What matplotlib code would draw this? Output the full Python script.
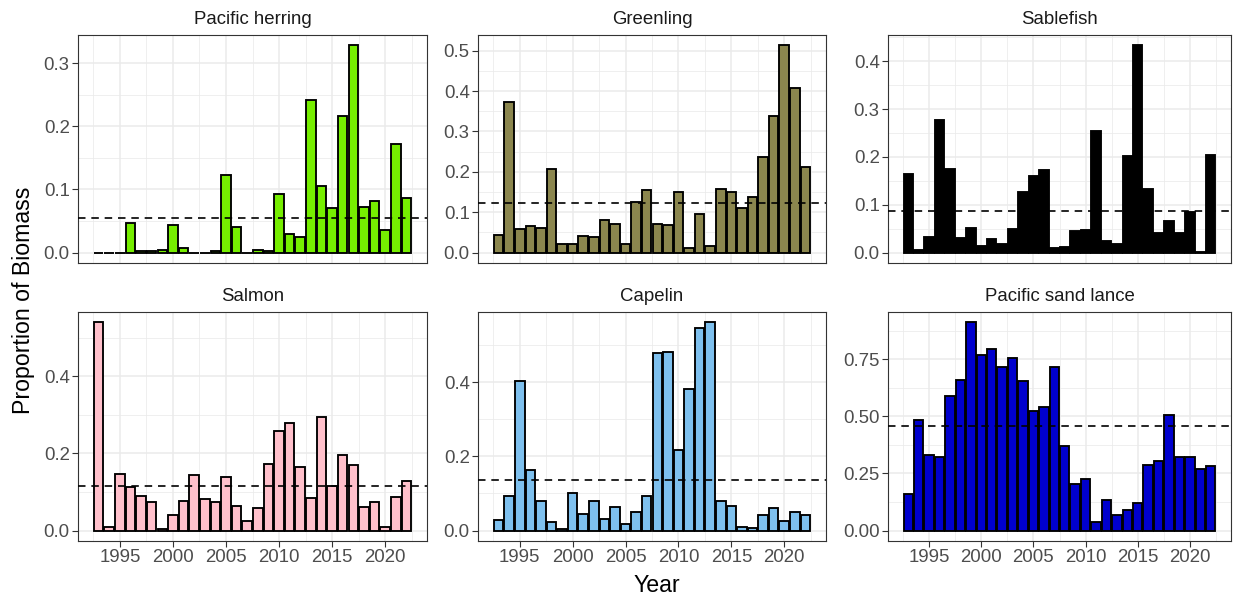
"""Proportion of biomass by year for six prey species (facet grid, ggplot-like)."""

import matplotlib.pyplot as plt
import numpy as np
from matplotlib.ticker import FixedLocator

plt.rcParams["font.family"] = ["Liberation Sans", "DejaVu Sans"]

years = np.arange(1993, 2023)

species = ["Pacific herring", "Greenling", "Sablefish",
           "Salmon", "Capelin", "Pacific sand lance"]

herring = [0.0, 0.0, 0.0, 0.047, 0.002, 0.002, 0.004, 0.044, 0.008, 0.0,
           0.0, 0.002, 0.123, 0.040, 0.0, 0.004, 0.002, 0.093, 0.029, 0.024,
           0.241, 0.105, 0.070, 0.216, 0.328, 0.073, 0.081, 0.036, 0.172, 0.086]
greenling = [0.044, 0.372, 0.059, 0.066, 0.061, 0.207, 0.021, 0.021, 0.040, 0.038,
             0.081, 0.071, 0.022, 0.125, 0.154, 0.070, 0.068, 0.149, 0.012, 0.096,
             0.017, 0.158, 0.151, 0.111, 0.137, 0.237, 0.337, 0.513, 0.408, 0.213]
sablefish = [0.164, 0.006, 0.033, 0.277, 0.174, 0.031, 0.052, 0.014, 0.028, 0.019,
             0.050, 0.127, 0.161, 0.173, 0.009, 0.012, 0.045, 0.047, 0.254, 0.024,
             0.019, 0.201, 0.433, 0.133, 0.042, 0.066, 0.040, 0.084, 0.002, 0.205]
salmon = [0.540, 0.010, 0.148, 0.114, 0.089, 0.073, 0.004, 0.040, 0.077, 0.145,
          0.082, 0.074, 0.138, 0.064, 0.026, 0.058, 0.173, 0.259, 0.280, 0.164,
          0.085, 0.295, 0.116, 0.197, 0.171, 0.061, 0.075, 0.010, 0.086, 0.129]
capelin = [0.029, 0.094, 0.404, 0.162, 0.080, 0.024, 0.004, 0.100, 0.045, 0.079,
           0.030, 0.063, 0.017, 0.049, 0.093, 0.479, 0.480, 0.218, 0.382, 0.547,
           0.561, 0.079, 0.065, 0.010, 0.006, 0.043, 0.062, 0.026, 0.050, 0.042]
sand_lance = [0.161, 0.485, 0.332, 0.322, 0.588, 0.661, 0.911, 0.770, 0.795, 0.718,
              0.754, 0.653, 0.523, 0.542, 0.715, 0.371, 0.205, 0.224, 0.037, 0.135,
              0.070, 0.091, 0.121, 0.289, 0.306, 0.507, 0.320, 0.320, 0.268, 0.281]

# long-term means (dashed reference lines)
means = [0.055, 0.124, 0.088, 0.115, 0.137, 0.458]

colors = ["#76EE00", "#8B864E", "#000000", "#FFC0CB", "#7EC0EE", "#0000CD"]

y_major = [[0, 0.1, 0.2, 0.3], [0, 0.1, 0.2, 0.3, 0.4, 0.5], [0, 0.1, 0.2, 0.3, 0.4],
           [0, 0.2, 0.4], [0, 0.2, 0.4], [0, 0.25, 0.5, 0.75]]
y_labels = [["0.0", "0.1", "0.2", "0.3"], ["0.0", "0.1", "0.2", "0.3", "0.4", "0.5"],
            ["0.0", "0.1", "0.2", "0.3", "0.4"], ["0.0", "0.2", "0.4"],
            ["0.0", "0.2", "0.4"], ["0.00", "0.25", "0.50", "0.75"]]

x_major = [1995, 2000, 2005, 2010, 2015, 2020]
x_minor = [1992.5, 1997.5, 2002.5, 2007.5, 2012.5, 2017.5, 2022.5]

values = [herring, greenling, sablefish, salmon, capelin, sand_lance]

W, H = 1238, 598
fig = plt.figure(figsize=(W / 100, H / 100), dpi=100)

cols = [(78, 427), (478, 826), (888, 1231)]
rows = [(35, 263), (312, 541)]

grid_col = "#EBEBEB"
border_col = "#333333"
text_col = "#4D4D4D"

for i, (name, vals) in enumerate(zip(species, values)):
    r, c = divmod(i, 3)
    x0, x1 = cols[c]
    y0, y1 = rows[r]
    ax = fig.add_axes([x0 / W, 1 - y1 / H, (x1 - x0) / W, (y1 - y0) / H])

    vals = np.asarray(vals)
    ax.bar(years, vals, width=0.9, color=colors[i], edgecolor="black",
           linewidth=1.35, zorder=3)
    ax.axhline(means[i], color="black", linestyle=(0, (4.5, 3.5)), linewidth=1.2, zorder=4)

    xr = (years[-1] + 0.45) - (years[0] - 0.45)
    ax.set_xlim(years[0] - 0.45 - 0.05 * xr, years[-1] + 0.45 + 0.05 * xr)
    ymax = vals.max()
    ax.set_ylim(-0.05 * ymax, 1.05 * ymax)

    ax.set_xticks(x_major)
    ax.xaxis.set_minor_locator(FixedLocator(x_minor))
    ax.set_yticks(y_major[i])
    ax.set_yticklabels(y_labels[i])
    ym = y_major[i]
    step = ym[1] - ym[0]
    minors = [v + step / 2 for v in [ym[0] - step] + ym]
    ax.yaxis.set_minor_locator(FixedLocator([m for m in minors if -0.05 * ymax < m < 1.05 * ymax]))

    ax.grid(True, which="major", color=grid_col, linewidth=1.1, zorder=0)
    ax.grid(True, which="minor", color=grid_col, linewidth=0.55, zorder=0)
    ax.set_axisbelow(True)

    for s in ax.spines.values():
        s.set_color(border_col)
        s.set_linewidth(0.8)

    ax.tick_params(which="major", length=4, width=0.8, color=border_col,
                   labelsize=13.4, labelcolor=text_col, pad=2)
    ax.tick_params(which="minor", length=0)
    if r == 0:
        ax.tick_params(axis="x", which="major", length=0, labelbottom=False)

    ax.set_title(name, fontsize=13.4, color="#1A1A1A", pad=8)

fig.text(657 / W, 1 - 585 / H, "Year", ha="center", va="center", fontsize=16.7)
fig.text(24 / W, 1 - 300 / H, "Proportion of Biomass", ha="center", va="center",
         rotation=90, fontsize=16.7)

fig.savefig("out.png", dpi=100)
